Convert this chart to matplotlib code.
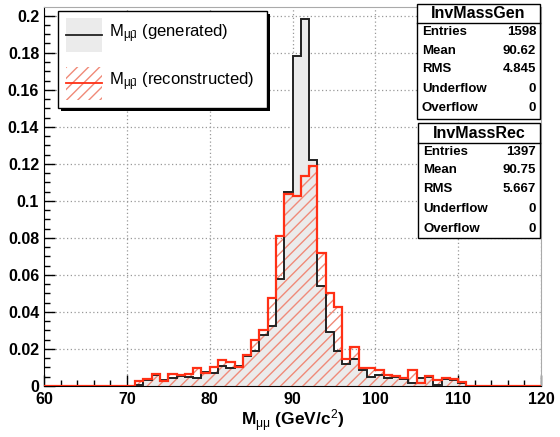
import numpy as np
import matplotlib
matplotlib.use("Agg")
import matplotlib.pyplot as plt
from matplotlib.patches import Rectangle
from matplotlib.lines import Line2D
from matplotlib.ticker import MultipleLocator, FuncFormatter

plt.rcParams['font.family'] = ['Liberation Sans', 'DejaVu Sans']
plt.rcParams['mathtext.fontset'] = 'custom'
plt.rcParams['mathtext.rm'] = 'Liberation Sans'
plt.rcParams['mathtext.it'] = 'Liberation Sans'
plt.rcParams['mathtext.bf'] = 'Liberation Sans:bold'
plt.rcParams['hatch.linewidth'] = 1.0

# histogram binning: 1 GeV bins from 60 to 120, data only in 70..110
edges = np.arange(60, 121, 1)
first_bin = 70

# normalised contents of bins 70..110
gen_vals = [0.0, 0.0007, 0.003, 0.0058, 0.003, 0.0044, 0.0055, 0.005, 0.0044, 0.0076,
            0.0068, 0.011, 0.0098, 0.0107, 0.016, 0.0188, 0.0273, 0.0324, 0.058, 0.1046,
            0.178, 0.198, 0.122, 0.054, 0.029, 0.019, 0.0117, 0.0146, 0.0088, 0.005,
            0.006, 0.0044, 0.005, 0.004, 0.0018, 0.0044, 0.0047, 0.0007, 0.004, 0.003,
            0.0018]
rec_vals = [0.0, 0.0025, 0.004, 0.0067, 0.0028, 0.0067, 0.006, 0.0067, 0.0095, 0.007,
            0.0105, 0.014, 0.0127, 0.0105, 0.0167, 0.025, 0.030, 0.0477, 0.081, 0.1037,
            0.1025, 0.1132, 0.119, 0.0716, 0.050, 0.0424, 0.0148, 0.021, 0.0096, 0.0096,
            0.0086, 0.0062, 0.0053, 0.0044, 0.0085, 0.0018, 0.0053, 0.003, 0.0045, 0.004,
            0.0022]

# stat boxes
stat_rows = ['Entries', 'Mean', 'RMS', 'Underflow', 'Overflow']
gen_stats = ['1598', '90.62', '4.845', '0', '0']
rec_stats = ['1397', '90.75', '5.667', '0', '0']

gen = np.zeros(len(edges) - 1)
rec = np.zeros(len(edges) - 1)
gen[first_bin - 60:first_bin - 60 + len(gen_vals)] = gen_vals
rec[first_bin - 60:first_bin - 60 + len(rec_vals)] = rec_vals

W, H = 560, 437
red = '#ff3015'
hatch_col = '#f08a78'
gray_fill = '#ebebeb'

fig = plt.figure(figsize=(W / 100, H / 100), dpi=100)
ax = fig.add_axes([44 / W, 1 - 386 / H, (541 - 44) / W, (386 - 7) / H])


def fx(px):
    return px / W


def fy(py):
    return 1 - py / H


# histograms
ax.stairs(gen, edges, fill=True, facecolor=gray_fill, edgecolor='none', zorder=2)
ax.stairs(rec, edges, fill=True, facecolor='none', edgecolor=hatch_col, hatch='///',
          linewidth=0, zorder=3)
ax.stairs(gen, edges, color='#222222', linewidth=1.4, zorder=4)
ax.stairs(rec, edges, color=red, linewidth=1.6, zorder=5)

ax.set_xlim(60, 120)
ax.set_ylim(0, 0.2047)
ax.xaxis.set_major_locator(MultipleLocator(10))
ax.xaxis.set_minor_locator(MultipleLocator(2))
ax.yaxis.set_major_locator(MultipleLocator(0.02))
ax.yaxis.set_minor_locator(MultipleLocator(0.005))
ax.yaxis.set_major_formatter(FuncFormatter(lambda v, p: '%g' % round(v, 3)))
ax.tick_params(which='both', direction='in', top=False, right=False,
               labelsize=11.5, width=1)
ax.tick_params(axis='x', pad=4)
ax.tick_params(which='major', length=8)
ax.tick_params(which='minor', length=4)
for lab in ax.get_xticklabels() + ax.get_yticklabels():
    lab.set_fontweight('bold')
ax.grid(True, which='major', color='#999999', linestyle=(0, (1, 2)), linewidth=0.9)
ax.set_axisbelow(True)
for s in ['top', 'right']:
    ax.spines[s].set_color('#aaaaaa')

ax.set_xlabel(r'M$_{\mu\mu}$ (GeV/c$^{2}$)', fontsize=12.5, fontweight='bold', labelpad=1)

# legend box with shadow
fig.add_artist(Rectangle((fx(61), fy(111)), (267 - 58) / W, (108 - 11) / H,
                         transform=fig.transFigure, facecolor='black', edgecolor='none'))
fig.add_artist(Rectangle((fx(58), fy(108)), (267 - 58) / W, (108 - 11) / H,
                         transform=fig.transFigure, facecolor='white', edgecolor='black',
                         linewidth=1))
fig.add_artist(Rectangle((fx(66), fy(52)), 36 / W, 34 / H, transform=fig.transFigure,
                         facecolor=gray_fill, edgecolor='none'))
fig.add_artist(Line2D([fx(66), fx(102)], [fy(35), fy(35)], transform=fig.transFigure,
                      color='#222222', linewidth=1.3))
fig.add_artist(Rectangle((fx(66), fy(100)), 36 / W, 33 / H, transform=fig.transFigure,
                         facecolor='none', edgecolor=hatch_col, hatch='///', linewidth=0))
fig.add_artist(Line2D([fx(66), fx(102)], [fy(83), fy(83)], transform=fig.transFigure,
                      color=red, linewidth=1.3))
fig.text(fx(109), fy(34), r'M$_{\mu\bar{\mu}}$ (generated)', fontsize=12, va='center')
fig.text(fx(109), fy(82), r'M$_{\mu\bar{\mu}}$ (reconstructed)', fontsize=12, va='center')


def stat_box(x0, y0, x1, y1, yline, title, ytitle, rows_y, values):
    fig.add_artist(Rectangle((fx(x0), fy(y1)), (x1 - x0) / W, (y1 - y0) / H,
                             transform=fig.transFigure, facecolor='white',
                             edgecolor='black', linewidth=1))
    fig.add_artist(Line2D([fx(x0), fx(x1)], [fy(yline), fy(yline)],
                          transform=fig.transFigure, color='black', linewidth=1))
    fig.text(fx((x0 + x1) / 2), fy(ytitle), title, fontsize=11.5, fontweight='bold',
             ha='center', va='center')
    for name, val, ry in zip(stat_rows, values, rows_y):
        fig.text(fx(x0 + 5), fy(ry), name, fontsize=9.5, fontweight='bold', va='center')
        fig.text(fx(x1 - 4), fy(ry), val, fontsize=9.5, fontweight='bold', va='center',
                 ha='right')


stat_box(417, 4, 540, 119, 23, 'InvMassGen', 14, [32, 51, 69, 89, 108], gen_stats)
stat_box(418, 123, 540, 238, 142.7, 'InvMassRec', 133, [152, 170, 189, 209, 229], rec_stats)

fig.savefig('out.png', dpi=100)
